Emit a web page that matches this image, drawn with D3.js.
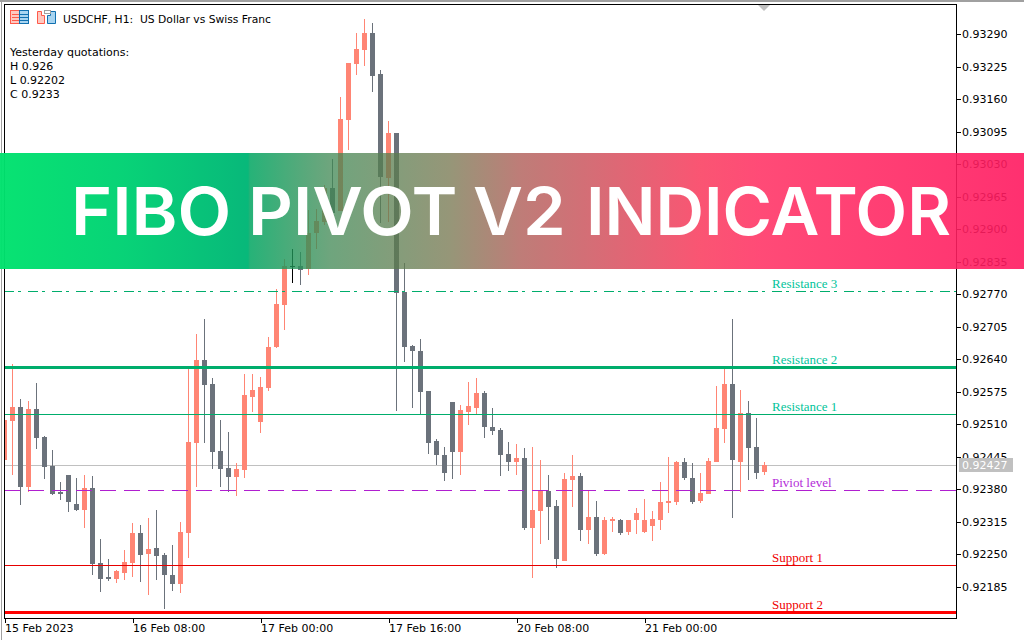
<!DOCTYPE html>
<html>
<head>
<meta charset="utf-8">
<title>USDCHF H1 Fibo Pivot</title>
<script src="https://cdn.jsdelivr.net/npm/d3@7/dist/d3.min.js"></script>
<style>
html,body{margin:0;padding:0;background:#fff;overflow:hidden}
svg{display:block}
text{font-family:"DejaVu Sans",sans-serif;white-space:pre}
</style>
</head>
<body>
<svg id="chart" width="1024" height="640"></svg>
<script>
// ---- Data (prices in 1e-5 units of USDCHF) ----
const candleOpen = [92438,92516,92544,92384,92540,92484,92426,92374,92408,92350,92338,92382,92232,92204,92200,92212,92232,92292,92250,92262,92248,92208,92190,92292,92472,92638,92590,92456,92422,92404,92418,92564,92514,92582,92664,92748,92826,92826,92820,92892,92914,92982,92936,93118,93230,93258,93292,93210,93002,93092,92774,92666,92656,92576,92476,92448,92554,92454,92534,92542,92572,92504,92498,92450,92434,92442,92302,92336,92376,92346,92236,92398,92406,92298,92324,92250,92316,92318,92294,92318,92294,92306,92318,92352,92354,92434,92402,92356,92370,92434,92500,92590,92434,92532,92464,92414];
const candleHigh = [92518,92630,92560,92556,92592,92486,92458,92394,92408,92402,92408,92406,92280,92240,92218,92258,92312,92308,92322,92338,92252,92268,92314,92622,92690,92720,92602,92518,92494,92432,92610,92610,92604,92684,92780,92840,92860,92854,92938,92940,92988,93040,93164,93232,93292,93320,93312,93218,93116,93092,92832,92668,92680,92576,92480,92464,92554,92548,92594,92602,92576,92542,92502,92474,92470,92462,92464,92438,92408,92358,92412,92448,92412,92376,92356,92324,92324,92320,92318,92342,92360,92336,92394,92444,92436,92442,92432,92412,92442,92586,92624,92720,92578,92556,92522,92434];
const candleLow = [92438,92408,92348,92374,92460,92400,92368,92358,92334,92336,92302,92208,92174,92196,92192,92198,92204,92194,92168,92198,92140,92176,92172,92242,92384,92472,92420,92384,92374,92366,92402,92534,92492,92576,92662,92698,92792,92788,92808,92860,92908,92918,92936,93058,93208,93226,93174,92912,92914,92536,92634,92542,92530,92450,92428,92396,92400,92408,92508,92528,92482,92488,92406,92416,92408,92298,92202,92270,92278,92222,92236,92344,92276,92270,92246,92248,92294,92288,92288,92290,92292,92276,92298,92332,92348,92398,92350,92352,92370,92434,92472,92322,92374,92398,92400,92408];
const candleClose = [92518,92544,92384,92540,92482,92424,92370,92370,92354,92338,92382,92230,92200,92200,92216,92234,92292,92248,92260,92246,92208,92190,92294,92474,92638,92588,92454,92420,92404,92420,92568,92578,92584,92664,92750,92826,92826,92818,92892,92916,92982,92932,93120,93232,93260,93292,93206,93004,93092,92772,92664,92656,92574,92472,92448,92412,92454,92538,92546,92572,92504,92496,92448,92434,92442,92302,92338,92378,92344,92240,92400,92406,92298,92324,92250,92318,92320,92292,92318,92332,92318,92320,92354,92356,92434,92402,92354,92372,92436,92502,92590,92438,92532,92462,92412,92428];

const priceTicks = [92185,92250,92315,92380,92445,92510,92575,92640,92705,92770,92835,92900,92965,93030,93095,93160,93225,93290];
const timeTickIndex = [0,16,32,48,64,80];
const timeTickLabels = ["15 Feb 2023","16 Feb 08:00","17 Feb 00:00","17 Feb 16:00","20 Feb 08:00","21 Feb 00:00"];

const levelNames  = ["Resistance 3","Resistance 2","Resistance 1","Piviot level","Support 1","Support 2"];
const levelValues = [92775,92623,92529,92377,92227,92133];

const lastPrice = 92427;
const titleText = "USDCHF, H1:  US Dollar vs Swiss Franc";
const infoLines = ["Yesterday quotations:","H 0.926","L 0.92202","C 0.9233"];
const bannerWords = ["FIBO","PIVOT","V2","INDICATOR"];

// ---- Styles / layout, separate from the data ----
const COL_UP = "#ff8574", COL_DOWN = "#6b727b", COL_DOJI = "#000";
const levelStyle = [
  {stroke:"#00ad6c", width:1, dash:"10 4 3 7",  text:"#00c49a"},
  {stroke:"#00ad6c", width:3, dash:null,        text:"#00c49a"},
  {stroke:"#00ad6c", width:1, dash:null,        text:"#00c49a"},
  {stroke:"#b01fd0", width:1, dash:"16 8",      text:"#b42cd8"},
  {stroke:"#e60000", width:1, dash:null,        text:"#f00000"},
  {stroke:"#ff0000", width:3, dash:null,        text:"#f00000"}
];
const plot = {left:4.5, right:956.5, top:4.5, bottom:618.5};
const UI_FONT = "11px";

const svg = d3.select("#chart");

// scales
const y = d3.scaleLinear().domain([92185,93290]).range([586.5,34]);
const x = d3.scalePoint().domain(d3.range(candleOpen.length)).range([4.5,764.5]);

const defs = svg.append("defs");
defs.append("clipPath").attr("id","plotClip").append("rect")
  .attr("x",plot.left+0.5).attr("y",plot.top+0.5)
  .attr("width",plot.right-plot.left-1).attr("height",plot.bottom-plot.top-1);

// window chrome
svg.append("rect").attr("x",0).attr("y",0).attr("width",1024).attr("height",2).attr("fill","#a0a0a0");
svg.append("rect").attr("x",1).attr("y",0).attr("width",1).attr("height",640).attr("fill","#a0a0a0");

const plotG = svg.append("g").attr("clip-path","url(#plotClip)");

// last-price line
plotG.append("line").attr("x1",plot.left).attr("x2",plot.right)
  .attr("y1",y(lastPrice)).attr("y2",y(lastPrice))
  .attr("stroke","#c0c0c0").attr("stroke-width",1);

// candles
const candles = d3.range(candleOpen.length).map(i=>({i,o:candleOpen[i],h:candleHigh[i],l:candleLow[i],c:candleClose[i]}));
const colorOf = d=> d.c>d.o?COL_UP:(d.c<d.o?COL_DOWN:COL_DOJI);

const cg = plotG.selectAll("g.candle").data(candles).join("g").attr("class","candle");
cg.append("rect")
  .attr("x",d=>x(d.i)-0.5).attr("width",1)
  .attr("y",d=>y(d.h)).attr("height",d=>y(d.l)-y(d.h))
  .attr("fill",colorOf).attr("shape-rendering","crispEdges");
cg.append("rect")
  .attr("x",d=>x(d.i)-2.5).attr("width",5)
  .attr("y",d=>y(Math.max(d.o,d.c)))
  .attr("height",d=>Math.max(1,Math.abs(y(d.o)-y(d.c))))
  .attr("fill",colorOf).attr("shape-rendering","crispEdges");

// level lines
plotG.selectAll("line.level").data(levelValues).join("line").attr("class","level")
  .attr("x1",plot.left-0.5).attr("x2",plot.right)
  .attr("y1",d=>Math.round(y(d)-0.5)+0.5).attr("y2",d=>Math.round(y(d)-0.5)+0.5)
  .attr("stroke",(d,i)=>levelStyle[i].stroke)
  .attr("stroke-width",(d,i)=>levelStyle[i].width)
  .attr("stroke-dasharray",(d,i)=>levelStyle[i].dash);

svg.selectAll("text.levelLabel").data(levelValues).join("text").attr("class","levelLabel")
  .attr("x",772).attr("y",d=>y(d)-3.5)
  .attr("fill",(d,i)=>levelStyle[i].text)
  .style("font-family",'"Liberation Serif",serif').style("font-size","13px")
  .text((d,i)=>levelNames[i]);

// axes
const fmtPrice = d=>(d/100000).toFixed(5);
const yAxis = d3.axisRight(y).tickValues(priceTicks).tickFormat(fmtPrice).tickSize(4).tickPadding(1.5);
const yG = svg.append("g").attr("transform",`translate(${plot.right},0)`).call(yAxis);
yG.select(".domain").remove();
yG.selectAll("line").attr("stroke","#000").attr("shape-rendering","crispEdges");
yG.selectAll("text").attr("fill","#000").style("font-size",UI_FONT).style("font-family",'"DejaVu Sans",sans-serif');

const xAxis = d3.axisBottom(x).tickValues(timeTickIndex)
  .tickFormat((d,i)=>timeTickLabels[i]).tickSize(4).tickPadding(2);
const xG = svg.append("g").attr("transform",`translate(0,${plot.bottom})`).call(xAxis);
xG.select(".domain").remove();
xG.selectAll("line").attr("stroke","#000").attr("shape-rendering","crispEdges");
xG.selectAll("text").attr("fill","#000").attr("text-anchor","start")
  .style("font-size",UI_FONT).style("font-family",'"DejaVu Sans",sans-serif');

// frame
svg.append("rect").attr("x",plot.left).attr("y",plot.top)
  .attr("width",plot.right-plot.left).attr("height",plot.bottom-plot.top)
  .attr("fill","none").attr("stroke","#000").attr("stroke-width",1);

// last-price box
svg.append("rect").attr("x",959).attr("y",y(lastPrice)-7.5).attr("width",54).attr("height",14).attr("fill","#c0c0c0");
svg.append("text").attr("x",962).attr("y",y(lastPrice)).attr("dy","0.36em")
  .attr("fill","#fff").style("font-size",UI_FONT).text(fmtPrice(lastPrice));

// shift marker
svg.append("path").attr("d","M758,5H770L764,11Z").attr("fill","#c0c0c0");

// title + info
svg.append("text").attr("x",63).attr("y",23).attr("fill","#000").style("font-size",UI_FONT)
  .attr("textLength",208).attr("lengthAdjust","spacingAndGlyphs").text(titleText);
svg.selectAll("text.info").data(infoLines).join("text").attr("class","info")
  .attr("x",10).attr("y",(d,i)=>56+14*i).attr("fill","#000").style("font-size",UI_FONT).text(d=>d);

// toolbar icons
function icon1(g){
  g.append("rect").attr("x",10.5).attr("y",10.5).attr("width",9).attr("height",13).attr("fill","#ffc8c0").attr("stroke","#ff5a4a");
  g.append("rect").attr("x",19.5).attr("y",10.5).attr("width",9).attr("height",13).attr("fill","#a8d4f0").attr("stroke","#1070b0");
  [14,17,20].forEach(v=>{
    g.append("line").attr("x1",12).attr("x2",19).attr("y1",v+0.5).attr("y2",v+0.5).attr("stroke","#ff5a4a");
    g.append("line").attr("x1",20).attr("x2",28).attr("y1",v+0.5).attr("y2",v+0.5).attr("stroke","#1070b0");
  });
}
function icon2(g){
  g.append("path").attr("d","M37.5,23.5V11.5H41.5V15.5H44.5V23.5Z").attr("fill","#ffc8c0").attr("stroke","#ff5a4a");
  g.append("path").attr("d","M47.5,23.5V15.5H50.5V11.5H55.5V23.5Z").attr("fill","#a8d4f0").attr("stroke","#1070b0");
  g.append("rect").attr("x",44.5).attr("y",10.5).attr("width",6).attr("height",3).attr("fill","#fff").attr("stroke","#a0a0a0");
}
icon1(svg.append("g")); icon2(svg.append("g"));

// banner
const grad = defs.append("linearGradient").attr("id","bannerGrad")
  .attr("gradientUnits","userSpaceOnUse").attr("x1",0).attr("x2",1024).attr("y1",0).attr("y2",0);
[
 [0,"rgb(0,226,110)",.97],[120,"rgb(0,210,115)",.97],[248,"rgb(0,182,118)",.97],
 [250,"rgb(0,165,96)",.85],[330,"rgb(62,135,82)",.75],[450,"rgb(115,115,75)",.75],
 [520,"rgb(174,92,86)",.8],[700,"rgb(249,55,90)",.85],[760,"rgb(255,50,100)",.88],[1024,"rgb(255,25,96)",.9]
].forEach(s=>grad.append("stop").attr("offset",s[0]/1024).attr("stop-color",s[1]).attr("stop-opacity",s[2]));
svg.append("rect").attr("x",0).attr("y",153).attr("width",1024).attr("height",116).attr("fill","url(#bannerGrad)");

const bannerX = [71,248,473,586], bannerW = [178,227,110,365];
const bt = svg.append("text").attr("y",235).attr("fill","#fff")
  .style("font-family","Inter,sans-serif").style("font-weight",600).style("font-size","66px");
bt.selectAll("tspan").data(bannerWords).join("tspan")
  .attr("x",(d,i)=>bannerX[i]).attr("textLength",(d,i)=>bannerW[i]).attr("lengthAdjust","spacingAndGlyphs")
  .text((d,i)=>d+(i<bannerWords.length-1?" ":""));
</script>
</body>
</html>
